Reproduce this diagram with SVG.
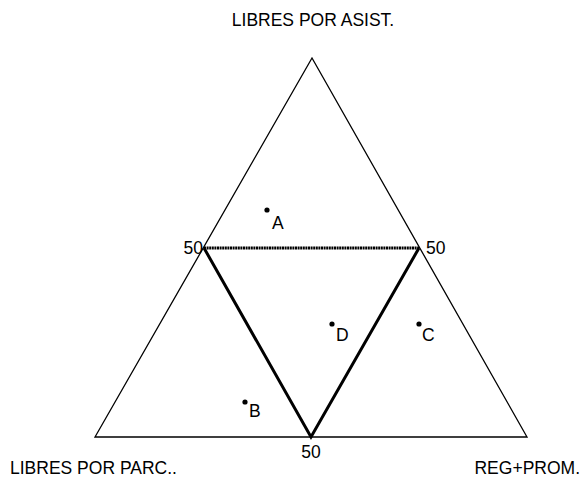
<svg xmlns="http://www.w3.org/2000/svg" width="584" height="491" viewBox="0 0 584 491">
<style>
text{font-family:"Liberation Sans",Arial,sans-serif;font-size:17.5px;fill:#000}
.outer{fill:none;stroke:#000;stroke-width:1.3}
.inner{fill:none;stroke:#000;stroke-width:3}
.dotted{stroke-dasharray:2 0.6}
.dot{fill:#000}
</style>
<rect width="584" height="491" fill="#fff"/>
<g id="connectors">
<polygon class="outer" points="312,58 95,437 527,437"/>
<line class="inner dotted" x1="204" y1="248" x2="419" y2="248"/>
<polyline class="inner" points="204,248 311,437 419,248" stroke-linejoin="miter"/>
</g>
<g id="title"><text x="313" y="26" text-anchor="middle">LIBRES POR ASIST.</text></g>
<g id="corner-left"><text x="10" y="474">LIBRES POR PARC..</text></g>
<g id="corner-right"><text x="580" y="474" text-anchor="end">REG+PROM.</text></g>
<g id="label-50-left"><text x="203" y="254" text-anchor="end">50</text></g>
<g id="label-50-right"><text x="426" y="254">50</text></g>
<g id="label-50-bottom"><text x="311" y="458" text-anchor="middle">50</text></g>
<g id="point-A"><circle class="dot" cx="267" cy="210" r="2.6"/><text x="272" y="229">A</text></g>
<g id="point-B"><circle class="dot" cx="245" cy="402" r="2.6"/><text x="249" y="417">B</text></g>
<g id="point-C"><circle class="dot" cx="419" cy="324" r="2.6"/><text x="422" y="341">C</text></g>
<g id="point-D"><circle class="dot" cx="332" cy="324" r="2.6"/><text x="336" y="341">D</text></g>
</svg>
